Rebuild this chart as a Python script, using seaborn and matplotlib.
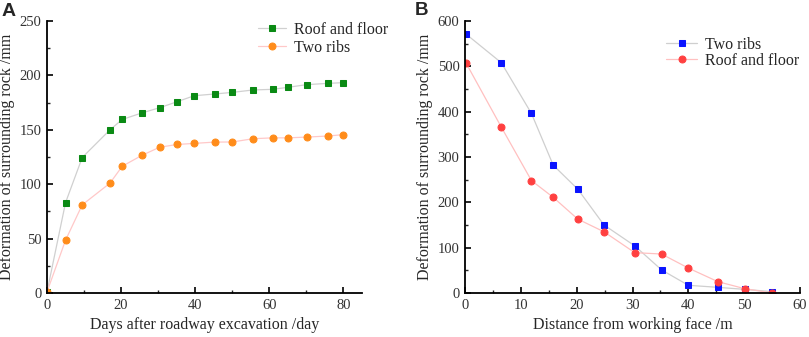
import numpy as np
import pandas as pd
import seaborn as sns
import matplotlib.pyplot as plt
from matplotlib.ticker import MultipleLocator

# Panel A: deformation vs days after excavation
days = [0, 5, 9.5, 17, 20.3, 25.6, 30.4, 35.1, 39.7, 45.2, 50, 55.6, 60.9, 64.9, 70.1, 75.9, 79.8]
roof_floor_a = [1, 83, 124.5, 150, 159.5, 165.5, 170.3, 175.8, 181.3, 182.9, 184.4, 186.6, 187.2, 189, 191.5, 192.7, 193.3]
two_ribs_a = [1, 48.5, 81, 101, 116.5, 126.5, 134, 136.5, 137.5, 138.7, 138.8, 141.8, 142.6, 142.6, 143.3, 144.3, 145.5]

# Panel B: deformation vs distance from working face
distance = [0.2, 6.5, 11.9, 15.8, 20.2, 24.9, 30.4, 35.2, 40, 45.3, 50.1, 55]
two_ribs_b = [571, 508, 396, 282, 229, 150, 104, 51, 17, 12.5, 8, 3]
roof_floor_b = [507, 366, 248, 211, 163, 135, 89, 86, 55, 25, 9.5, 0]

sns.set_style("ticks")
plt.rcParams["font.family"] = ["Liberation Serif", "DejaVu Serif"]

fig = plt.figure(figsize=(8.09, 3.37), dpi=100)
axA = fig.add_axes([47 / 809, 1 - 293 / 337, (362 - 47) / 809, (293 - 21) / 337])
axB = fig.add_axes([465 / 809, 1 - 293 / 337, (800 - 465) / 809, (293 - 21) / 337])


def draw(ax, x, y, label, marker, mcolor, lcolor, size):
    sns.lineplot(x=x, y=y, ax=ax, label=label, marker=marker, markersize=size,
                 color=lcolor, markerfacecolor=mcolor, markeredgecolor=mcolor,
                 linewidth=0.9, sort=False)


draw(axA, days, roof_floor_a, "Roof and floor", "s", "#0a8a14", "#d0d0d0", 4.5)
draw(axA, days, two_ribs_a, "Two ribs", "o", "#ff8c1a", "#ffc8c8", 5)
draw(axB, distance, two_ribs_b, "Two ribs", "s", "#0a14ff", "#cfcfcf", 4.5)
draw(axB, distance, roof_floor_b, "Roof and floor", "o", "#ff4040", "#ffc0c0", 5)

axA.set_xlim(0, 85)
axA.set_ylim(0, 250)
axA.xaxis.set_major_locator(MultipleLocator(20))
axA.xaxis.set_minor_locator(MultipleLocator(10))
axA.yaxis.set_major_locator(MultipleLocator(50))
axA.yaxis.set_minor_locator(MultipleLocator(25))
axA.set_xlabel("Days after roadway excavation /day", fontsize=11.5)
axA.set_ylabel("Deformation of surrounding rock /mm", fontsize=11.5, labelpad=3)

axB.set_xlim(0, 60)
axB.set_ylim(0, 600)
axB.xaxis.set_major_locator(MultipleLocator(10))
axB.xaxis.set_minor_locator(MultipleLocator(5))
axB.yaxis.set_major_locator(MultipleLocator(100))
axB.yaxis.set_minor_locator(MultipleLocator(50))
axB.set_xlabel("Distance from working face /m", fontsize=11.5)
axB.set_ylabel("Deformation of surrounding rock /mm", fontsize=11.5, labelpad=3)

for ax in (axA, axB):
    sns.despine(ax=ax)
    for s in ("left", "bottom"):
        ax.spines[s].set_linewidth(1.3)
        ax.spines[s].set_color("black")
    ax.tick_params(which="major", direction="in", length=4, width=1.2, labelsize=10.5, pad=4, colors="black")
    ax.tick_params(which="minor", direction="in", length=2.5, width=1.0)
    for t in ax.get_xticklabels() + ax.get_yticklabels():
        t.set_color("#333333")

axA.legend(loc="upper left", bbox_to_anchor=(205 / 315, 1.02), frameon=False, fontsize=11.5,
           handlelength=1.7, handletextpad=0.5, labelspacing=0.1, borderaxespad=0)
axB.legend(loc="upper left", bbox_to_anchor=(195 / 335, 0.965), frameon=False, fontsize=11.5,
           handlelength=1.9, handletextpad=0.5, labelspacing=0.0, borderaxespad=0)

fig.text(2 / 809, 1 - 3 / 337, "A", fontsize=14, fontweight="bold", va="top",
         family=["Liberation Sans", "DejaVu Sans"])
fig.text(415 / 809, 1 - 2 / 337, "B", fontsize=13.5, fontweight="bold", va="top",
         family=["Liberation Sans", "DejaVu Sans"])

fig.savefig("out.png", dpi=100)
